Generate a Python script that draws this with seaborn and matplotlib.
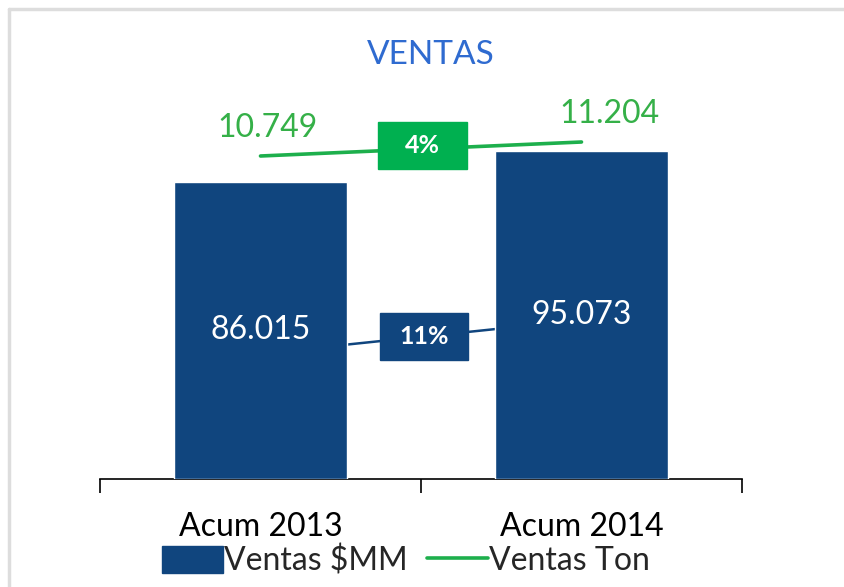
import numpy as np
import matplotlib
matplotlib.use("Agg")
import matplotlib.pyplot as plt
import seaborn as sns
from matplotlib.patches import Rectangle, Patch
from matplotlib.lines import Line2D

# Datos
periodos = ["Acum 2013", "Acum 2014"]
ventas_mm = [86015, 95073]
ventas_ton = [10749, 11204]
conector_mm = [36300, 46000]  # linea guia de la caja de variacion

azul = "#10457E"
verde = "#1DAF4C"
verde_txt = "#35B048"

sns.set_theme(style="white")
plt.rcParams["font.family"] = ["Lato", "DejaVu Sans"]


def fmt(v):
    return f"{v:,}".replace(",", ".")


fig = plt.figure(figsize=(8.44, 5.87), dpi=100)
ax = fig.add_axes([100 / 844, 108 / 587, 642 / 844, 389 / 587])

# Barras (Ventas $MM)
sns.barplot(x=periodos, y=ventas_mm, color=azul, width=0.54, saturation=1, ax=ax, zorder=3)
ax.set_xlim(-0.5, 1.5)
ax.set_ylim(0, 112600)
ax.set_yticks([])
ax.set_ylabel("")

for i, v in enumerate(ventas_mm):
    ax.text(i, v / 2, fmt(v), color="white", fontsize=23, ha="center", va="center", zorder=5)

# linea guia + caja de variacion $MM
ax.plot([0, 1], conector_mm, color=azul, lw=1.8, zorder=1)
var_mm = (ventas_mm[1] / ventas_mm[0] - 1) * 100
cy = np.mean(conector_mm)
ax.add_patch(Rectangle((0.51 - 0.137, cy - 6800), 0.274, 13600, color=azul, zorder=4))
ax.text(0.51, cy, f"{var_mm:.0f}%", color="white", fontsize=18, fontweight="bold",
        ha="center", va="center", zorder=6)

# Linea (Ventas Ton) en eje secundario
ax2 = ax.twinx()
sns.lineplot(x=[0, 1], y=ventas_ton, color=verde, lw=2.6, ax=ax2, zorder=3)
ax2.set_ylim(252, 12894)
ax2.set_yticks([])
for s in ax2.spines.values():
    s.set_visible(False)

offs = [(5, 20), (20, 20)]
for i, v in enumerate(ventas_ton):
    ax2.annotate(fmt(v), (i, v), xytext=offs[i], textcoords="offset points",
                 color=verde_txt, fontsize=23, ha="center", va="center")

var_ton = (ventas_ton[1] / ventas_ton[0] - 1) * 100
ty = np.mean(ventas_ton) + 110
ax2.add_patch(Rectangle((0.505 - 0.138, ty - 765), 0.276, 1530, color="#00B050", zorder=4))
ax2.text(0.505, ty, f"{var_ton:.0f}%", color="white", fontsize=18, fontweight="bold",
         ha="center", va="center", zorder=6)

# Ejes
for k in ["top", "left", "right"]:
    ax.spines[k].set_visible(False)
ax.spines["bottom"].set_color("black")
ax.spines["bottom"].set_linewidth(1.2)
ax.set_xticks([-0.5, 0.5, 1.5], minor=True)
ax.tick_params(axis="x", which="minor", direction="out", length=10, width=1.2, color="black", bottom=True)
ax.tick_params(axis="x", which="major", length=0, pad=24, labelsize=23, labelcolor="black")

# Titulo
fig.text(431 / 844, 1 - 55 / 587, "VENTAS", color="#2F6BD0", fontsize=24, ha="center", va="center")

# Leyenda
handles = [Patch(color=azul, label="Ventas $MM"),
           Line2D([0], [0], color=verde, lw=2.6, label="Ventas Ton")]
fig.legend(handles=handles, loc="center", bbox_to_anchor=(406 / 844, 26 / 587), ncol=2,
           frameon=False, fontsize=23, handlelength=1.9, handleheight=0.9,
           handletextpad=0.05, columnspacing=0.6, borderpad=0.2)

# Marco gris
fig.add_artist(Line2D([9 / 844, 9 / 844], [0, 1 - 9 / 587], color="#DDDDDD", lw=2.5))
fig.add_artist(Line2D([9 / 844, 1], [1 - 9 / 587, 1 - 9 / 587], color="#DDDDDD", lw=2.5))

fig.savefig("out.png", dpi=100)
